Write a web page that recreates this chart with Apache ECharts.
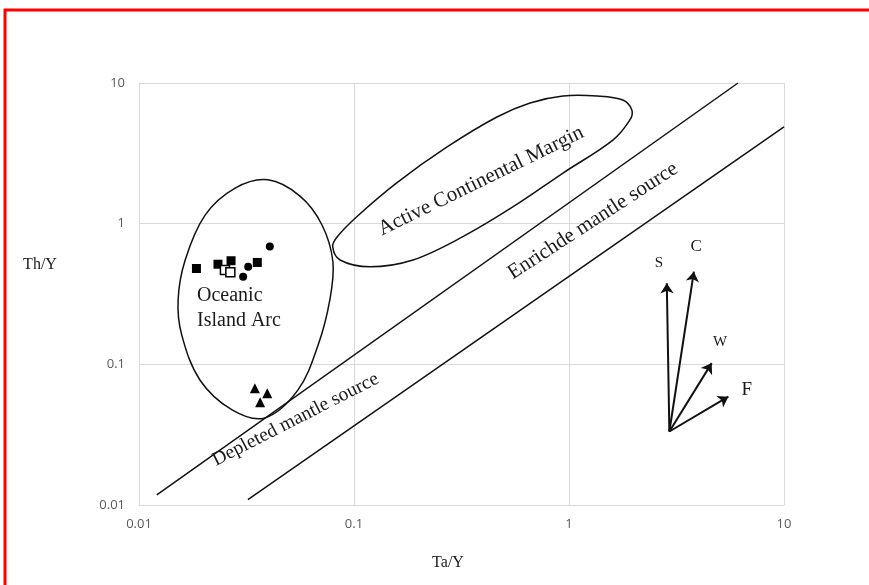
<!DOCTYPE html>
<html><head><meta charset="utf-8">
<script src="https://cdn.jsdelivr.net/npm/echarts@6/dist/echarts.min.js"></script>
<style>html,body{margin:0;padding:0;background:#fff}#c{width:869px;height:585px}</style>
</head><body><div id="c"></div>
<script>
const tickValues = [0.01, 0.1, 1, 10];
const tickLabels = ['0.01', '0.1', '1', '10'];

const filledSquares = [[0.0185,0.48],[0.0233,0.515],[0.0268,0.545],[0.0355,0.53]];
const openSquares = [[0.0251,0.469],[0.0266,0.452]];
const circles = [[0.0406,0.687],[0.0322,0.495],[0.0305,0.42]];
const triangles = [[0.0346,0.0676],[0.0395,0.0623],[0.0366,0.0538]];

const depletedLine = [[0.0121,0.0118],[6.11,10]];
const enrichedLine = [[0.0321,0.0109],[10,4.87]];

const islandArcOutline = [[0.0398,2.05],[0.0561,1.57],[0.0710,0.979],[0.0798,0.534],[0.0772,0.287],[0.0681,0.137],[0.0549,0.0658],[0.0385,0.0416],[0.0271,0.0474],[0.0192,0.0774],[0.0158,0.162],[0.0152,0.287],[0.0164,0.552],[0.0203,1.15],[0.0280,1.79]];
const continentalOutline = [[0.0796,0.686],[0.0861,0.552],[0.1186,0.494],[0.188,0.552],[0.321,0.809],[0.550,1.32],[0.938,2.29],[1.60,3.93],[1.92,5.46],[1.96,6.43],[1.78,7.57],[1.35,8.08],[0.938,8.08],[0.659,7.21],[0.462,5.73],[0.271,3.51],[0.158,1.95],[0.103,1.12],[0.0834,0.804]];

const vectorOrigin = [2.93,0.0333];
const vectorTips = [[2.85,0.377],[3.81,0.456],[4.61,0.102],[5.51,0.0589]];
const vectorNames = ['S','C','W','F'];
const vectorLabelPos = [[2.62,0.526],[3.90,0.686],[5.04,0.145],[6.71,0.0658]];
const vectorLabelSize = [15,17,15,19];

const fieldLabels = [
  {text:'Oceanic\nIsland Arc', pos:[0.01862,0.252], rotate:0, align:'left', size:20},
  {text:'Active Continental Margin', pos:[0.390,2.01], rotate:26, align:'center', size:21},
  {text:'Enrichde mantle source', pos:[1.293,1.045], rotate:33, align:'center', size:21},
  {text:'Depleted mantle source', pos:[0.0535,0.0405], rotate:27, align:'center', size:19.5}
];

const serif = '"Liberation Serif","Times New Roman",serif';

function outlineSeries(points){
  return {
    type:'custom', silent:true, z:3,
    data:[0],
    renderItem:function(params, api){
      const pts = points.map(p => api.coord(p));
      return {type:'polygon', shape:{points:pts, smooth:0.35},
        style:{fill:'none', stroke:'#111', lineWidth:1.5}};
    }
  };
}

const labelSeriesData = fieldLabels.map(l => ({
  value:l.pos,
  label:{show:true, position:'inside', formatter:l.text, rotate:l.rotate, align:l.align,
    verticalAlign:'middle', fontFamily:serif, fontSize:l.size, color:'#1a1a1a', lineHeight:25}
}));
vectorNames.forEach((n,i) => labelSeriesData.push({
  value:vectorLabelPos[i],
  label:{show:true, position:'inside', formatter:n, fontFamily:serif, fontSize:vectorLabelSize[i], color:'#1a1a1a'}
}));

const chart = echarts.init(document.getElementById('c'), null, {renderer:'canvas'});
const axisCommon = {
  type:'log', logBase:10, min:0.01, max:10,
  axisLine:{show:true, lineStyle:{color:'#d9d9d9'}},
  axisTick:{show:false},
  minorTick:{show:false},
  splitLine:{show:true, lineStyle:{color:'#d9d9d9', width:1}},
  axisLabel:{color:'#595959', fontSize:13, fontFamily:'"Open Sans","Liberation Sans",sans-serif',
    formatter:function(v){ const i = tickValues.findIndex(t => Math.abs(Math.log10(t)-Math.log10(v))<1e-6); return i>=0?tickLabels[i]:''; }}
};
chart.setOption({
  animation:false,
  backgroundColor:'#fff',
  grid:{left:139, right:85, top:83, bottom:80, containLabel:false},
  xAxis:Object.assign({}, axisCommon, {axisLabel:Object.assign({}, axisCommon.axisLabel, {margin:13})}),
  yAxis:Object.assign({}, axisCommon, {axisLabel:Object.assign({}, axisCommon.axisLabel, {margin:14})}),
  graphic:[
    {type:'rect', shape:{x:5, y:10, width:900, height:620}, style:{fill:'none', stroke:'#ff0000', lineWidth:3}, z:100},
    {type:'text', x:40, y:265, style:{text:'Th/Y', font:'16px '+serif, fill:'#1a1a1a', textAlign:'center', textVerticalAlign:'middle'}},
    {type:'text', x:448, y:563, style:{text:'Ta/Y', font:'16px '+serif, fill:'#1a1a1a', textAlign:'center', textVerticalAlign:'middle'}}
  ],
  series:[
    {type:'line', data:depletedLine, symbol:'none', lineStyle:{color:'#111', width:1.5}, z:3, silent:true},
    {type:'line', data:enrichedLine, symbol:'none', lineStyle:{color:'#111', width:1.5}, z:3, silent:true},
    outlineSeries(islandArcOutline),
    outlineSeries(continentalOutline),
    {type:'lines', coordinateSystem:'cartesian2d', z:4, silent:true,
      symbol:['none','arrow'], symbolSize:[0,10],
      lineStyle:{color:'#111', width:2, opacity:1},
      data:vectorTips.map(t => ({coords:[vectorOrigin, t]}))},
    {type:'scatter', data:filledSquares, symbol:'rect', symbolSize:9, itemStyle:{color:'#000', opacity:1}, z:5},
    {type:'scatter', data:openSquares, symbol:'rect', symbolSize:9, itemStyle:{color:'#fff', borderColor:'#000', borderWidth:1.5, opacity:1}, z:6},
    {type:'scatter', data:circles, symbol:'circle', symbolSize:8, itemStyle:{color:'#000', opacity:1}, z:5},
    {type:'scatter', data:triangles, symbol:'triangle', symbolSize:10, itemStyle:{color:'#000', opacity:1}, z:5},
    {type:'scatter', data:labelSeriesData, symbolSize:1, silent:true, z:7, itemStyle:{color:'rgba(0,0,0,0)', opacity:1}}
  ]
});
</script></body></html>
